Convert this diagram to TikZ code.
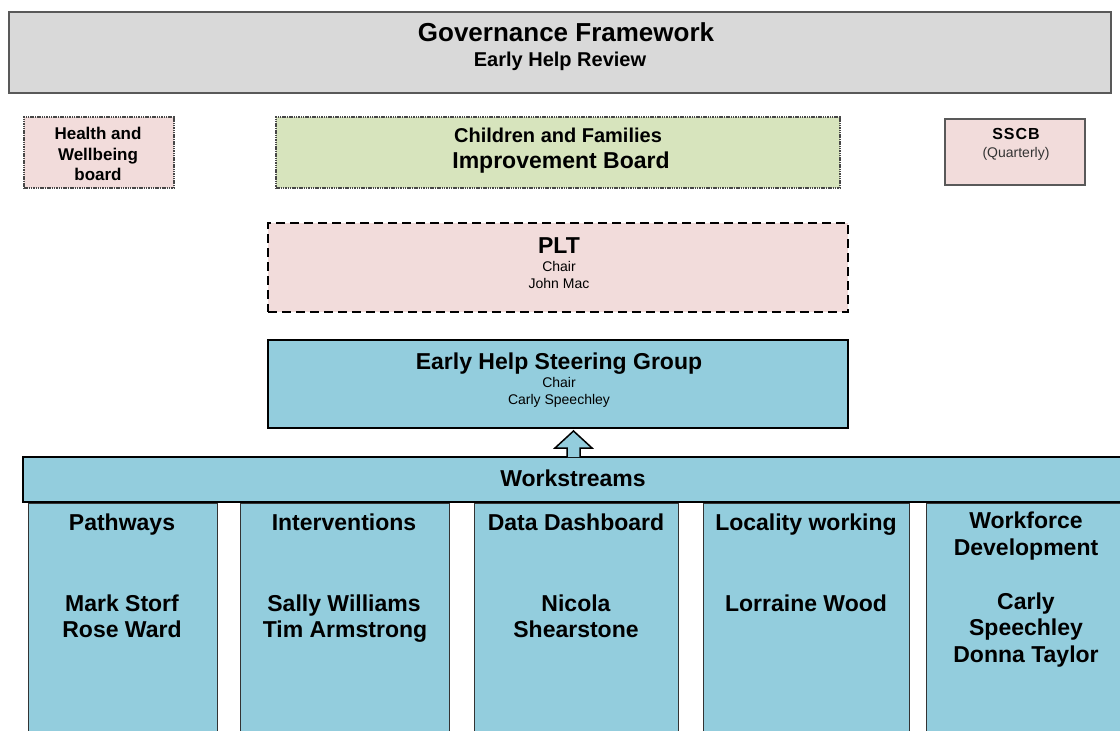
\documentclass[tikz,border=0pt]{standalone}
\usepackage{fontspec}
\setmainfont{Liberation Sans}
\usetikzlibrary{calc}
\definecolor{titlegray}{HTML}{D9D9D9}
\definecolor{pinkfill}{HTML}{F2DCDB}
\definecolor{greenfill}{HTML}{D7E4BD}
\definecolor{bluefill}{HTML}{93CDDD}
\definecolor{edgegray}{HTML}{595959}
\tikzset{
  box/.style={anchor=north west, inner sep=0pt, outer sep=0pt},
  txt/.style={anchor=base, inner sep=0pt, text=black},
  dotbox/.style={box, draw=edgegray!80!black, line width=1.2pt, dash pattern=on 1.5pt off 0.8pt},
  bluebox/.style={box, fill=bluefill, draw=black, line width=2pt},
  colbox/.style={box, fill=bluefill, draw=black!80, line width=1pt},
  bt/.style={txt, font=\bfseries\fontsize{23}{26}\selectfont},
  st/.style={txt, font=\fontsize{14}{16}\selectfont},
}
\begin{document}
\begin{tikzpicture}[x=1pt,y=-1pt]
\useasboundingbox (0,0) rectangle (1120,731);
\clip (0,0) rectangle (1120,731);
% title
\node[box, fill=titlegray, draw=edgegray, line width=1.5pt, minimum width=1102pt, minimum height=81pt] (title) at (9,12) {};
\node[txt, font=\bfseries\fontsize{26}{30}\selectfont] (t1) at (566,41) {Governance Framework};
\node[txt, font=\bfseries\fontsize{20}{24}\selectfont] (t2) at (560,66) {Early Help Review};
% health and wellbeing
\node[dotbox, fill=pinkfill, minimum width=150pt, minimum height=71pt] (hw) at (24,117) {};
\node[txt, font=\bfseries\fontsize{17}{20}\selectfont] (hw1) at (98,139) {Health and};
\node[txt, font=\bfseries\fontsize{17}{20}\selectfont] (hw2) at (98,160) {Wellbeing};
\node[txt, font=\bfseries\fontsize{17}{20}\selectfont] (hw3) at (98,180) {board};
% children and families
\node[dotbox, fill=greenfill, minimum width=564pt, minimum height=71pt] (cf) at (276,117) {};
\node[txt, font=\bfseries\fontsize{20}{24}\selectfont] (cf1) at (558,142) {Children and Families};
\node[txt, font=\bfseries\fontsize{23}{26}\selectfont] (cf2) at (561,168) {Improvement Board};
% SSCB
\node[box, fill=pinkfill, draw=edgegray, line width=1.2pt, minimum width=140pt, minimum height=66pt] (sscb) at (945,119) {};
\node[txt, font=\bfseries\fontsize{16}{19}\selectfont] (s1) at (1016,139) {S\kern1ptS\kern1ptC\kern1ptB};
\node[txt, font=\fontsize{14}{16}\selectfont, text=black!80] (s2) at (1016,157) {(Quarterly)};
% PLT
\node[box, fill=pinkfill, draw=black, line width=2.8pt, dash pattern=on 9pt off 5pt, minimum width=580pt, minimum height=89pt] (plt) at (268,223) {};
\node[bt] (p1) at (559,253) {PLT};
\node[st] (p2) at (559,271) {Chair};
\node[st] (p3) at (559,288) {John Mac};
% steering group
\node[bluebox, minimum width=580pt, minimum height=88pt] (eh) at (268,340) {};
\node[bt] (e1) at (559,369) {Early Help Steering Group};
\node[st] (e2) at (559,387) {Chair};
\node[st] (e3) at (559,404) {Carly Speechley};
% workstreams
\node[bluebox, minimum width=1110pt, minimum height=45pt] (ws) at (23,457) {};
\node[bt] (w1) at (573,486) {Workstreams};
% columns
\node[colbox, minimum width=189pt, minimum height=240pt] (c1) at (28,503) {};
\node[colbox, minimum width=209pt, minimum height=240pt] (c2) at (240,503) {};
\node[colbox, minimum width=204pt, minimum height=240pt] (c3) at (474,503) {};
\node[colbox, minimum width=206pt, minimum height=240pt] (c4) at (703,503) {};
\node[colbox, minimum width=210pt, minimum height=240pt] (c5) at (926,503) {};
\node[bt] (c1a) at (122,530) {Pathways};
\node[bt] (c1b) at (122,611) {Mark Storf};
\node[bt] (c1c) at (122,637) {Rose Ward};
\node[bt] (c2a) at (344,530) {Interventions};
\node[bt] (c2b) at (344,611) {Sally Williams};
\node[bt] (c2c) at (345,637) {Tim Armstrong};
\node[bt] (c3a) at (576,530) {Data Dashboard};
\node[bt] (c3b) at (576,611) {Nicola};
\node[bt] (c3c) at (576,637) {Shearstone};
\node[bt] (c4a) at (806,530) {Locality working};
\node[bt] (c4b) at (806,611) {Lorraine Wood};
\node[bt] (c5a) at (1026,528) {Workforce};
\node[bt] (c5b) at (1026,555) {Development};
\node[bt] (c5c) at (1026,609) {Carly};
\node[bt] (c5d) at (1026,635) {Speechley};
\node[bt] (c5e) at (1026,662) {Donna Taylor};
% block arrow from workstreams up to steering group
\coordinate (ab) at (573.5,457);
\coordinate (at) at (573.5,431);
\filldraw[fill=bluefill, draw=black, line width=1.5pt, line join=miter]
  ($(ab)+(-6.5,0)$) -- ($(ab)+(-6.5,-9)$) -- ($(ab)+(-18.5,-9)$) -- (at)
  -- ($(ab)+(18.5,-9)$) -- ($(ab)+(6.5,-9)$) -- ($(ab)+(6.5,0)$);
\end{tikzpicture}
\end{document}
